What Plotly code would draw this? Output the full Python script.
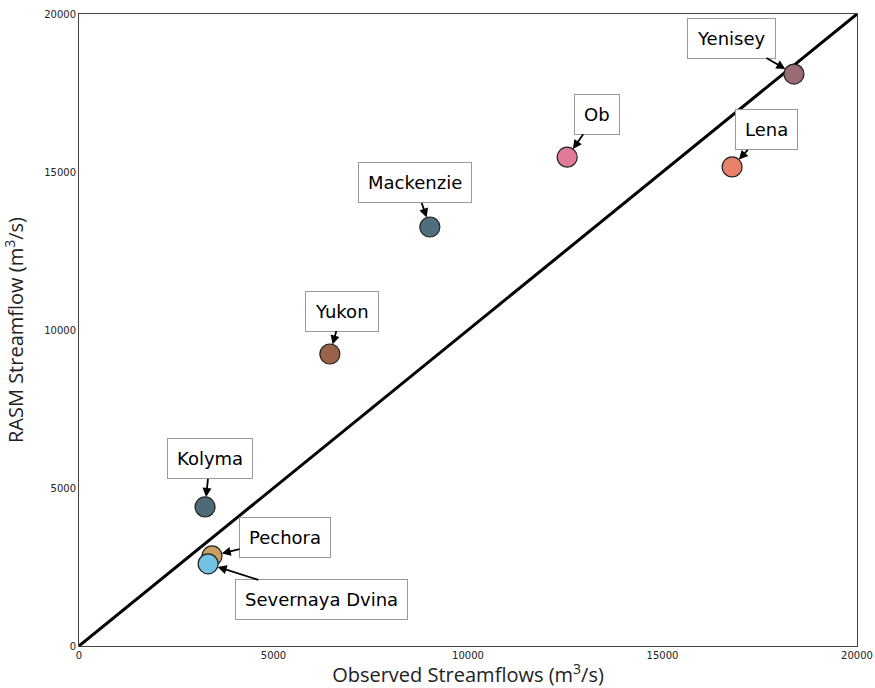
import plotly.graph_objects as go

# Mean annual streamflow for major Arctic rivers: observed vs. RASM simulated (m3/s)
rivers = ["Yenisey", "Ob", "Lena", "Mackenzie", "Yukon", "Kolyma", "Pechora", "Severnaya Dvina"]
observed = [18380, 12550, 16790, 9020, 6450, 3240, 3420, 3320]
rasm = [18100, 15470, 15160, 13260, 9240, 4400, 2850, 2600]
colors = ["#9b6b74", "#e07a97", "#e9806a", "#4f6f7f", "#9a6249", "#4e6a79", "#c9a063", "#72c3e3"]

# label offsets (pixels) of each callout box relative to its point
label_dx = [-62, 30, 34, -15, 12, 5, 73, 113]
label_dy = [-36, -43, -37, -44, -43, -48, -18, 36]

one_to_one = [0, 20000]
axis_ticks = [0, 5000, 10000, 15000, 20000]

fig = go.Figure()

fig.add_trace(go.Scatter(
    x=one_to_one, y=one_to_one, mode="lines",
    line=dict(color="black", width=3), hoverinfo="skip", showlegend=False,
))

fig.add_trace(go.Scatter(
    x=observed, y=rasm, mode="markers", text=rivers,
    marker=dict(size=20, color=colors, line=dict(color="#222222", width=1.2)),
    showlegend=False,
))

for name, xo, yr, dx, dy in zip(rivers, observed, rasm, label_dx, label_dy):
    fig.add_annotation(
        x=xo, y=yr, text=name, ax=dx, ay=dy,
        showarrow=True, arrowhead=2, arrowsize=1, arrowwidth=1.8, arrowcolor="black",
        standoff=10,
        font=dict(family="DejaVu Sans", size=18, color="black"),
        bgcolor="white", bordercolor="#9a9a9a", borderwidth=1, borderpad=9,
    )

axis_common = dict(
    range=[0, 20000], tickvals=axis_ticks, ticktext=[str(v) for v in axis_ticks],
    showgrid=False, zeroline=False, showline=True, mirror=True,
    linecolor="#444444", linewidth=1, ticks="", automargin=False,
    tickfont=dict(family="DejaVu Sans", size=10, color="#222222"),
    title_font=dict(family="Open Sans", size=20, color="#222222"),
)

fig.update_layout(
    width=875, height=688,
    margin=dict(l=79, r=18, t=14, b=42, autoexpand=False),
    paper_bgcolor="white", plot_bgcolor="white",
    xaxis=dict(axis_common, title=dict(text="Observed Streamflows (m<sup>3</sup>/s)", standoff=6)),
    yaxis=dict(axis_common, title=dict(text="RASM Streamflow (m<sup>3</sup>/s)", standoff=30)),
)

fig.write_html("out.html")
